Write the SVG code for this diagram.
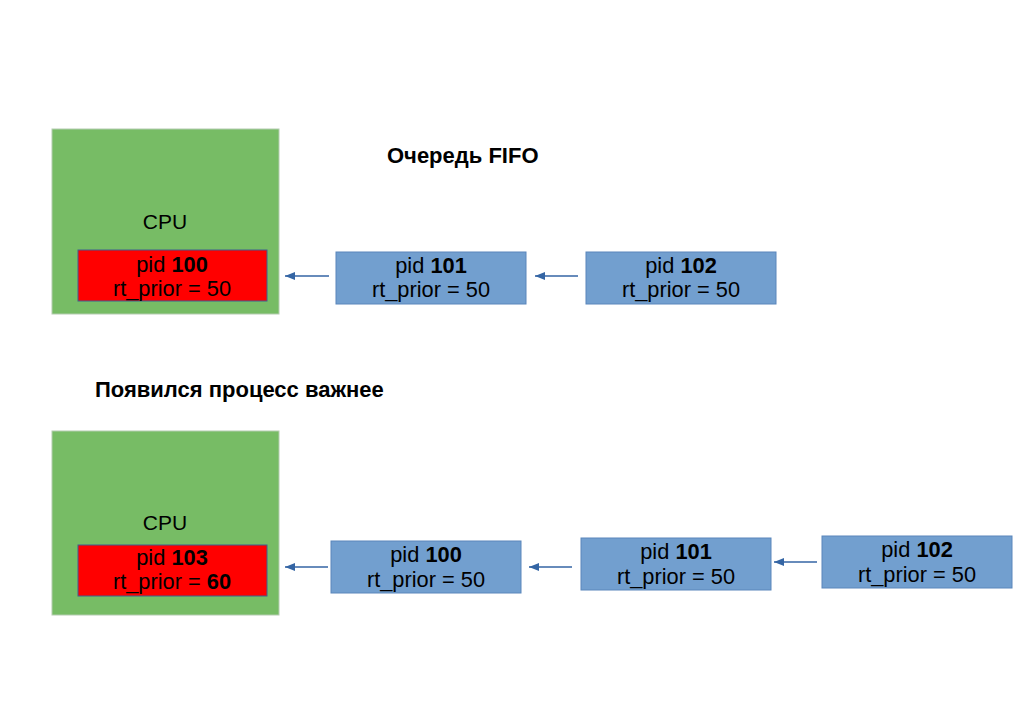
<svg xmlns="http://www.w3.org/2000/svg" width="1024" height="724" viewBox="0 0 1024 724">
<style>
text{font-family:"Liberation Sans",Arial,sans-serif;fill:#000;text-anchor:middle}
.t{font-size:21.8px}
.cp{font-size:21px}
.h{font-size:22px;font-weight:bold;text-anchor:start}
.b{font-weight:bold}
.cpu{fill:#77bc65;stroke:#b4ccb0;stroke-width:1}
.run{fill:#ff0000;stroke:#3f5f8f;stroke-width:1}
.q{fill:#729fcf;stroke:#5a86bb;stroke-width:1}
.c{stroke:#3465a4;stroke-width:1.3;fill:none;marker-end:url(#ah)}
</style>
<defs>
<marker id="ah" viewBox="0 0 10 8" refX="10" refY="4" markerWidth="10" markerHeight="8" markerUnits="userSpaceOnUse" orient="auto">
<path d="M0,0 L10,4 L0,8 z" fill="#3465a4"/>
</marker>
</defs>
<rect width="1024" height="724" fill="#fff"/>
<g id="title1"><text class="h" x="387" y="163">Очередь FIFO</text></g>
<g id="title2"><text class="h" x="95" y="397">Появился процесс важнее</text></g>

<g id="cpu1">
<rect class="cpu" x="52" y="129" width="227" height="185"/>
<text class="cp" x="165" y="229">CPU</text>
</g>
<g id="p100a">
<rect class="run" x="78" y="250" width="189" height="51"/>
<text class="t" x="172" y="272">pid <tspan class="b">100</tspan></text>
<text class="t" x="172" y="296">rt_prior = 50</text>
</g>
<g id="p101a">
<rect class="q" x="336" y="252" width="190" height="52"/>
<text class="t" x="431" y="273">pid <tspan class="b">101</tspan></text>
<text class="t" x="431" y="297">rt_prior = 50</text>
</g>
<g id="p102a">
<rect class="q" x="586" y="252" width="190" height="52"/>
<text class="t" x="681" y="273">pid <tspan class="b">102</tspan></text>
<text class="t" x="681" y="297">rt_prior = 50</text>
</g>

<g id="cpu2">
<rect class="cpu" x="52" y="431" width="227" height="184"/>
<text class="cp" x="165" y="530">CPU</text>
</g>
<g id="p103">
<rect class="run" x="78" y="545" width="189" height="51"/>
<text class="t" x="172" y="565">pid <tspan class="b">103</tspan></text>
<text class="t" x="172" y="589">rt_prior = <tspan class="b">60</tspan></text>
</g>
<g id="p100b">
<rect class="q" x="331" y="541" width="190" height="52"/>
<text class="t" x="426" y="562">pid <tspan class="b">100</tspan></text>
<text class="t" x="426" y="587">rt_prior = 50</text>
</g>
<g id="p101b">
<rect class="q" x="581" y="538" width="190" height="52"/>
<text class="t" x="676" y="559">pid <tspan class="b">101</tspan></text>
<text class="t" x="676" y="584">rt_prior = 50</text>
</g>
<g id="p102b">
<rect class="q" x="822" y="536" width="190" height="52"/>
<text class="t" x="917" y="557">pid <tspan class="b">102</tspan></text>
<text class="t" x="917" y="582">rt_prior = 50</text>
</g>

<g id="connectors">
<line class="c" x1="329" y1="276" x2="285" y2="276"/>
<line class="c" x1="578" y1="276" x2="535" y2="276"/>
<line class="c" x1="328" y1="567" x2="285" y2="567"/>
<line class="c" x1="572" y1="567" x2="529" y2="567"/>
<line class="c" x1="817" y1="562" x2="774" y2="562"/>
</g>
</svg>
